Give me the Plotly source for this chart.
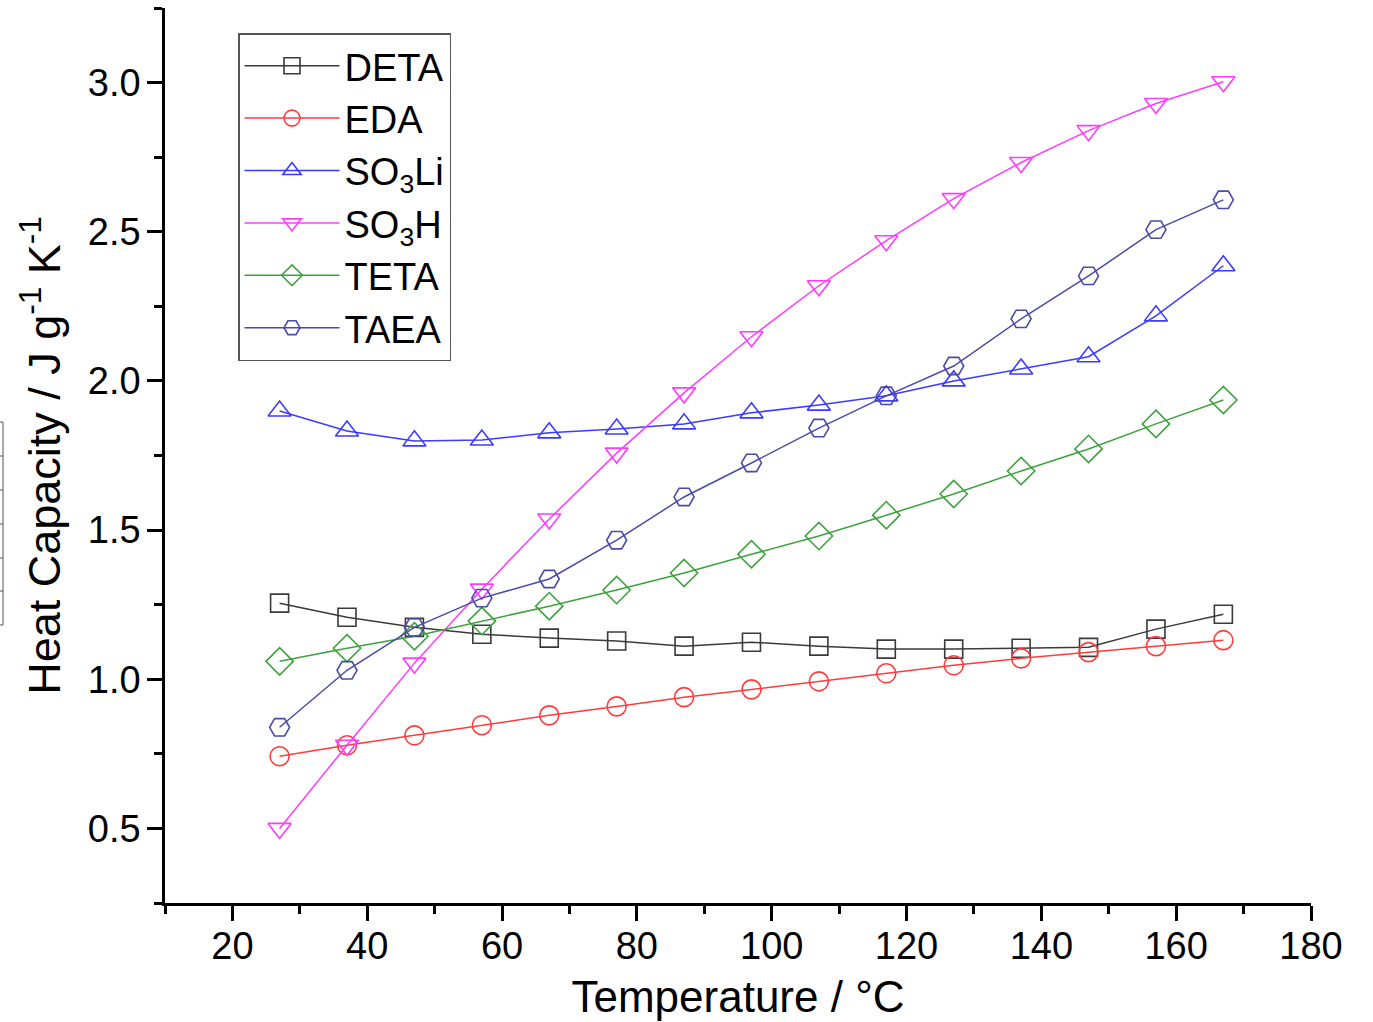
import plotly.graph_objects as go

temperature = [27, 37, 47, 57, 67, 77, 87, 97, 107, 117, 127, 137, 147, 157, 167]

deta = [1.255, 1.208, 1.174, 1.151, 1.138, 1.128, 1.111, 1.124, 1.111, 1.101, 1.101, 1.104, 1.107, 1.168, 1.218]
eda = [0.742, 0.779, 0.812, 0.846, 0.879, 0.909, 0.940, 0.966, 0.993, 1.020, 1.047, 1.070, 1.091, 1.111, 1.131]
so3li = [1.899, 1.832, 1.799, 1.802, 1.826, 1.839, 1.856, 1.893, 1.919, 1.950, 2.000, 2.040, 2.081, 2.218, 2.386]
so3h = [0.500, 0.779, 1.054, 1.302, 1.537, 1.758, 1.960, 2.148, 2.319, 2.470, 2.611, 2.732, 2.839, 2.930, 3.003]
teta = [1.060, 1.104, 1.144, 1.195, 1.245, 1.299, 1.356, 1.419, 1.480, 1.550, 1.621, 1.698, 1.772, 1.856, 1.936]
taea = [0.839, 1.030, 1.174, 1.272, 1.336, 1.466, 1.611, 1.725, 1.842, 1.950, 2.050, 2.208, 2.352, 2.507, 2.607]

series_names = ["DETA", "EDA", "SO<sub>3</sub>Li", "SO<sub>3</sub>H", "TETA", "TAEA"]
series_values = [deta, eda, so3li, so3h, teta, taea]
colors = ["#3a3a3a", "#ff3b3b", "#3b3bff", "#ff3bff", "#3da23d", "#4a4aa8"]
symbols = ["square-open", "circle-open", "triangle-up-open", "triangle-down-open", "diamond-open", "hexagon2-open"]
sizes = [18, 19, 20, 20, 21, 20]

W, H = 1373, 1022
ML, MR, MT, MB = 165, 62, 8, 119
PW, PH = W - ML - MR, H - MT - MB

fig = go.Figure()
for name, vals, c, s, sz in zip(series_names, series_values, colors, symbols, sizes):
    fig.add_trace(go.Scatter(
        x=temperature, y=vals, name=name, mode="lines+markers",
        line=dict(color=c, width=1.5),
        marker=dict(symbol=s, size=sz, color=c, line=dict(color=c, width=1.6)),
    ))

def px_to_paper(x, y):
    return (x - ML) / PW, 1 - (y - MT) / PH

# faint table-border artifact at the left edge
shapes = []
x0, _ = px_to_paper(0, 0)
x1, _ = px_to_paper(3, 0)
for yy in [422, 456, 490, 524, 558, 591, 625]:
    _, py = px_to_paper(0, yy)
    shapes.append(dict(type="line", xref="paper", yref="paper", x0=x0, x1=x1, y0=py, y1=py,
                       line=dict(color="#555555", width=1)))
_, ya = px_to_paper(0, 422)
_, yb = px_to_paper(0, 625)
shapes.append(dict(type="line", xref="paper", yref="paper", x0=x1, x1=x1, y0=ya, y1=yb,
                   line=dict(color="#555555", width=1)))

font_family = "Arial, Liberation Sans, sans-serif"
lx, ly = px_to_paper(238, 33)

fig.update_layout(
    width=W, height=H,
    margin=dict(l=ML, r=MR, t=MT, b=MB),
    paper_bgcolor="white", plot_bgcolor="white",
    font=dict(family=font_family, color="black", size=38),
    showlegend=True,
    legend=dict(x=lx, y=ly, xanchor="left", yanchor="top",
                bgcolor="white", bordercolor="#555555", borderwidth=1.5,
                font=dict(size=38, family=font_family), itemwidth=95,
                tracegroupgap=0),
    shapes=shapes,
    xaxis=dict(
        range=[10, 180], tickmode="linear", tick0=20, dtick=20,
        ticks="outside", ticklen=15, tickwidth=2.5, tickcolor="black",
        showline=True, linecolor="black", linewidth=2.5, showgrid=False, zeroline=False,
        tickfont=dict(size=38), ticklabelstandoff=-7,
        minor=dict(ticks="outside", ticklen=8, tickwidth=2.5, dtick=10, tick0=10, tickcolor="black", showgrid=False),
        title=dict(text="Temperature / °C", font=dict(size=44), standoff=15),
    ),
    yaxis=dict(
        range=[0.25, 3.25], tickmode="linear", tick0=0.5, dtick=0.5, tickformat=".1f",
        ticks="outside", ticklen=15, tickwidth=2.5, tickcolor="black",
        showline=True, linecolor="black", linewidth=2.5, showgrid=False, zeroline=False,
        tickfont=dict(size=38), ticklabelstandoff=-1,
        minor=dict(ticks="outside", ticklen=8, tickwidth=2.5, dtick=0.25, tick0=0.25, tickcolor="black", showgrid=False),
        title=dict(text="Heat Capacity / J g<sup>-1</sup> K<sup>-1</sup>", font=dict(size=45), standoff=14),
    ),
)

fig.write_html("out.html")
